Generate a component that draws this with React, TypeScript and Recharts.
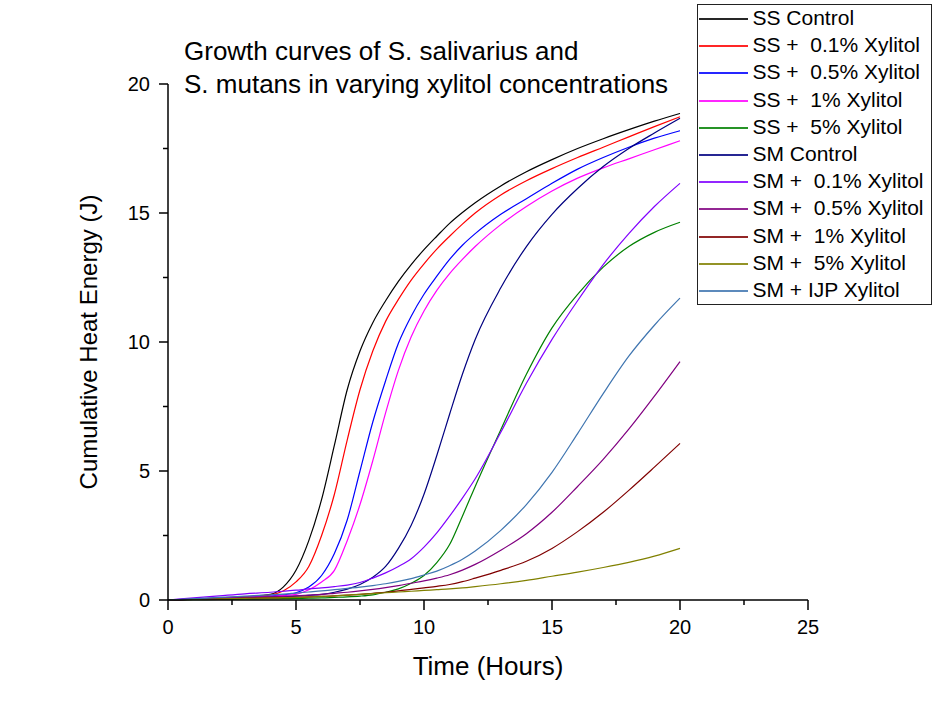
import React from 'react';
import { LineChart, Line, XAxis, YAxis, Label } from 'recharts';

// time axis (hours) shared by every curve
const hours = [0, 1, 2, 3, 4, 4.5, 5, 5.5, 6, 6.5, 7, 7.5, 8, 8.5, 9, 9.5, 10, 10.5, 11, 11.5, 12, 13, 14, 15, 16, 17, 18, 19, 20];

// cumulative heat energy (J)
const ssControl = [0, 0.04, 0.08, 0.13, 0.22, 0.5, 1.15, 2.3, 3.9, 6.0, 8.15, 9.65, 10.75, 11.6, 12.35, 13.0, 13.58, 14.1, 14.6, 15.02, 15.4, 16.05, 16.6, 17.07, 17.5, 17.88, 18.23, 18.56, 18.86];
const ss01 = [0, 0.03, 0.07, 0.12, 0.2, 0.35, 0.7, 1.3, 2.5, 4.1, 6.2, 8.15, 9.65, 10.8, 11.65, 12.4, 13.03, 13.6, 14.1, 14.57, 15.0, 15.7, 16.25, 16.72, 17.15, 17.55, 17.95, 18.35, 18.73];
const ss05 = [0, 0.03, 0.06, 0.1, 0.15, 0.2, 0.28, 0.5, 0.95, 1.8, 3.1, 5.0, 6.9, 8.5, 9.95, 11.0, 11.85, 12.55, 13.2, 13.75, 14.2, 14.95, 15.55, 16.15, 16.7, 17.15, 17.55, 17.9, 18.19];
const ss1 = [0, 0.03, 0.06, 0.1, 0.14, 0.17, 0.22, 0.4, 0.7, 1.15, 2.3, 3.7, 5.4, 7.25, 8.9, 10.2, 11.2, 12.0, 12.65, 13.2, 13.7, 14.55, 15.25, 15.85, 16.35, 16.75, 17.1, 17.45, 17.8];
const ss5 = [0, 0.01, 0.02, 0.03, 0.04, 0.05, 0.06, 0.07, 0.08, 0.1, 0.12, 0.15, 0.2, 0.3, 0.43, 0.65, 0.95, 1.45, 2.15, 3.25, 4.4, 6.6, 8.75, 10.55, 11.85, 12.9, 13.7, 14.25, 14.64];
const smControl = [0, 0.03, 0.05, 0.08, 0.11, 0.13, 0.15, 0.18, 0.22, 0.3, 0.42, 0.6, 0.88, 1.3, 2.0, 2.9, 4.1, 5.6, 7.2, 8.75, 10.1, 12.1, 13.7, 14.95, 15.95, 16.8, 17.5, 18.1, 18.67];
const sm01 = [0, 0.08, 0.16, 0.24, 0.3, 0.34, 0.38, 0.43, 0.47, 0.52, 0.58, 0.68, 0.85, 1.05, 1.3, 1.6, 2.05, 2.6, 3.25, 3.95, 4.7, 6.5, 8.4, 10.1, 11.6, 13.0, 14.2, 15.25, 16.15];
const sm05 = [0, 0.03, 0.06, 0.09, 0.12, 0.14, 0.16, 0.19, 0.22, 0.26, 0.3, 0.35, 0.41, 0.48, 0.56, 0.65, 0.74, 0.85, 0.98, 1.16, 1.38, 1.93, 2.57, 3.4, 4.4, 5.45, 6.62, 7.9, 9.24];
const sm1 = [0, 0.02, 0.04, 0.06, 0.08, 0.09, 0.1, 0.12, 0.14, 0.16, 0.19, 0.22, 0.26, 0.3, 0.35, 0.41, 0.47, 0.53, 0.6, 0.71, 0.85, 1.15, 1.5, 2.0, 2.65, 3.4, 4.25, 5.15, 6.07];
const sm5 = [0, 0.02, 0.04, 0.06, 0.08, 0.09, 0.1, 0.12, 0.14, 0.16, 0.19, 0.22, 0.25, 0.28, 0.31, 0.34, 0.37, 0.4, 0.43, 0.47, 0.52, 0.63, 0.76, 0.92, 1.08, 1.26, 1.46, 1.7, 2.0];
const smIjp = [0, 0.05, 0.1, 0.15, 0.2, 0.23, 0.27, 0.31, 0.35, 0.4, 0.45, 0.5, 0.56, 0.63, 0.72, 0.83, 0.97, 1.12, 1.33, 1.58, 1.9, 2.7, 3.7, 4.95, 6.45, 8.0, 9.45, 10.65, 11.7];

const xTicks = [0, 2.5, 5, 7.5, 10, 12.5, 15, 17.5, 20, 22.5, 25];
const yTicks = [0, 2.5, 5, 7.5, 10, 12.5, 15, 17.5, 20];

const SERIES = [
  { key: 'ssControl', name: 'SS Control', color: '#000000', values: ssControl },
  { key: 'ss01', name: 'SS +  0.1% Xylitol', color: '#ff0000', values: ss01 },
  { key: 'ss05', name: 'SS +  0.5% Xylitol', color: '#0000ff', values: ss05 },
  { key: 'ss1', name: 'SS +  1% Xylitol', color: '#ff00ff', values: ss1 },
  { key: 'ss5', name: 'SS +  5% Xylitol', color: '#008000', values: ss5 },
  { key: 'smControl', name: 'SM Control', color: '#000080', values: smControl },
  { key: 'sm01', name: 'SM +  0.1% Xylitol', color: '#8000ff', values: sm01 },
  { key: 'sm05', name: 'SM +  0.5% Xylitol', color: '#800080', values: sm05 },
  { key: 'sm1', name: 'SM +  1% Xylitol', color: '#800000', values: sm1 },
  { key: 'sm5', name: 'SM +  5% Xylitol', color: '#808000', values: sm5 },
  { key: 'smIjp', name: 'SM + IJP Xylitol', color: '#3f75b0', values: smIjp },
];

const data = hours.map((h, i) => {
  const row: Record<string, number> = { h };
  SERIES.forEach(s => {
    row[s.key] = s.values[i];
  });
  return row;
});

const FONT = '"Liberation Sans", Arial, sans-serif';

const XTick = (props: any) => {
  const { x, y, payload } = props;
  const major = payload.value % 5 === 0;
  return (
    <g>
      <line x1={x} x2={x} y1={y} y2={y + (major ? 10 : 5)} stroke="#000" strokeWidth={1.5} />
      {major && (
        <text x={x} y={y + 34} textAnchor="middle" fontSize={20} fontFamily={FONT} fill="#000">
          {payload.value}
        </text>
      )}
    </g>
  );
};

const YTick = (props: any) => {
  const { x, y, payload } = props;
  const major = payload.value % 5 === 0;
  return (
    <g>
      <line x1={x} x2={x - (major ? 9 : 5)} y1={y} y2={y} stroke="#000" strokeWidth={1.5} />
      {major && (
        <text x={x - 18} y={y + 7} textAnchor="end" fontSize={20} fontFamily={FONT} fill="#000">
          {payload.value}
        </text>
      )}
    </g>
  );
};

const XTitle = (props: any) => {
  const vb = props.viewBox || { x: 168, y: 600, width: 640 };
  return (
    <text x={vb.x + vb.width / 2} y={vb.y + 75} textAnchor="middle" fontSize={26} fontFamily={FONT} fill="#000">
      Time (Hours)
    </text>
  );
};

const YTitle = (props: any) => {
  const vb = props.viewBox || { x: 0, y: 84, height: 516 };
  const cx = 97;
  const cy = vb.y + vb.height / 2;
  return (
    <text
      x={cx}
      y={cy}
      transform={`rotate(-90, ${cx}, ${cy})`}
      textAnchor="middle"
      fontSize={24}
      fontFamily={FONT}
      fill="#000"
    >
      Cumulative Heat Energy (J)
    </text>
  );
};

export default function App() {
  return (
    <div style={{ position: 'absolute', left: 0, top: 0, width: 939, height: 719, background: '#fff' }}>
      <LineChart width={939} height={719} data={data} margin={{ top: 84, right: 131, bottom: 0, left: 0 }}>
        <XAxis
          dataKey="h"
          type="number"
          domain={[0, 25]}
          ticks={xTicks}
          interval={0}
          height={119}
          tickSize={0}
          tickMargin={0}
          tickLine={false}
          tick={<XTick />}
          axisLine={{ stroke: '#000', strokeWidth: 1.5 }}
        >
          <Label content={<XTitle />} />
        </XAxis>
        <YAxis
          type="number"
          domain={[0, 20]}
          ticks={yTicks}
          interval={0}
          width={168}
          tickSize={0}
          tickMargin={0}
          tickLine={false}
          tick={<YTick />}
          axisLine={{ stroke: '#000', strokeWidth: 1.5 }}
        >
          <Label content={<YTitle />} />
        </YAxis>
        {SERIES.map(s => (
          <Line
            key={s.key}
            dataKey={s.key}
            name={s.name}
            type="monotone"
            stroke={s.color}
            strokeWidth={1.2}
            dot={false}
            activeDot={false}
            isAnimationActive={false}
          />
        ))}
      </LineChart>

      <div
        style={{
          position: 'absolute',
          left: 184,
          top: 34.5,
          fontFamily: FONT,
          fontSize: 26,
          lineHeight: '33px',
          color: '#000',
          whiteSpace: 'pre',
        }}
      >
        {'Growth curves of S. salivarius and\nS. mutans in varying xylitol concentrations'}
      </div>

      <div
        style={{
          position: 'absolute',
          left: 697,
          top: 4,
          width: 235,
          height: 301,
          boxSizing: 'border-box',
          border: '1.5px solid #222',
          background: '#fff',
          fontFamily: FONT,
        }}
      >
        {SERIES.map((s, i) => (
          <div
            key={s.key}
            style={{ position: 'absolute', left: 0, top: Math.round(i * 27.2), height: 26, width: 232 }}
          >
            <div style={{ position: 'absolute', left: 1, top: 13, width: 49, height: 2, background: s.color, opacity: 0.85 }} />
            <div
              style={{
                position: 'absolute',
                left: 54.5,
                top: 0,
                lineHeight: '26px',
                fontSize: 21,
                whiteSpace: 'pre',
                color: '#000',
              }}
            >
              {s.name}
            </div>
          </div>
        ))}
      </div>
    </div>
  );
}
